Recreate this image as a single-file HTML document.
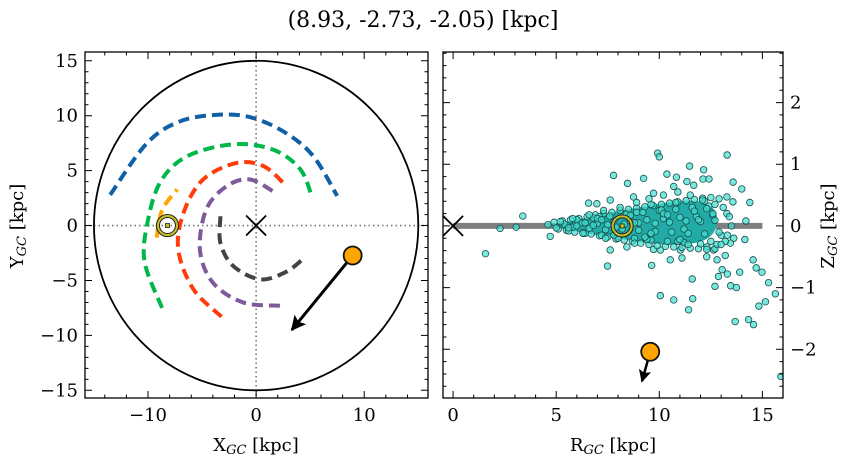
<!DOCTYPE html>
<html><head><meta charset="utf-8">
<style>
html,body{margin:0;padding:0;background:#fff;}
svg{display:block;font-family:"DejaVu Serif","Liberation Serif",serif;}
</style></head>
<body>
<svg id="fig" width="854" height="464" viewBox="0 0 854 464" xmlns="http://www.w3.org/2000/svg">
<text x="423" y="27" font-size="22" text-anchor="middle">(8.93, -2.73, -2.05) [kpc]</text>
<g id="left"></g>
<g id="right"></g>
<text x="256" y="451" font-size="18" text-anchor="middle">X<tspan font-size="13" font-style="italic" dy="3">GC</tspan><tspan dy="-3"> [kpc]</tspan></text>
<text transform="translate(23,226) rotate(-90)" font-size="18" text-anchor="middle">Y<tspan font-size="13" font-style="italic" dy="3">GC</tspan><tspan dy="-3"> [kpc]</tspan></text>
<text x="613" y="451" font-size="18" text-anchor="middle">R<tspan font-size="13" font-style="italic" dy="3">GC</tspan><tspan dy="-3"> [kpc]</tspan></text>
<text transform="translate(834,226) rotate(-90)" font-size="18" text-anchor="middle">Z<tspan font-size="13" font-style="italic" dy="3">GC</tspan><tspan dy="-3"> [kpc]</tspan></text>
</svg>
<script>
// ---- Left panel data (X, Y in kpc) ----
const orbitBlueX = [-13.5,-10.1,-7.0,-3.3,-0.3,2.8,5.3,7.5];
const orbitBlueY = [2.8,7.5,9.5,10.1,9.8,8.4,6.3,2.7];
const orbitGreenX = [-8.7,-10.3,-10.1,-8.9,-6.4,-2.1,1.6,4.1,5.2];
const orbitGreenY = [-7.5,-3.4,0,3.9,6.3,7.4,6.9,5.1,2.5];
const orbitOrangeX = [-9.2,-8.7,-7.3];
const orbitOrangeY = [-1.1,1.4,3.3];
const orbitRedX = [-3.2,-5.8,-7.2,-6.7,-4.9,-1.8,0.7,2.7];
const orbitRedY = [-8.3,-5.8,-2.2,1.2,4.2,5.7,5.4,3.7];
const orbitPurpleX = [2.2,-1.2,-4.0,-5.2,-4.6,-2.7,-0.6,1.6];
const orbitPurpleY = [-7.3,-7.0,-5.2,-2.2,1.5,3.6,4.2,3.1];
const orbitGreyX = [-3.3,-3.3,-2.1,0.4,2.8,4.5];
const orbitGreyY = [0.85,-1.6,-3.7,-4.9,-4.2,-2.9];
const objectXY = [8.93,-2.73];
const objectArrowXY = [3.3,-9.5];
const sunXY = [-8.2,0];
const diskRadius = [15];
const xTicksLeft = [-10,0,10];
const yTicksLeft = [-15,-10,-5,0,5,10,15];
// ---- Right panel data (R, Z in kpc) ----
const starR = [1.57,2.28,3.06,3.38,7.49,7.78,8.46,9.92,10.0,13.29,11.47,12.15,13.58,14.0,14.39,14.2,14.15,14.55,14.7,14.98,15.3,15.63,15.15,14.83,14.33,14.57,13.68,15.9,10.05,10.7,11.42,11.62,11.6,12.7,13.46,13.74,13.9,13.05,12.87,13.3,9.63,12.3,12.8,13.2,
9.24,10.37,10.83,11.34,12.12,12.41,10.7,11.67,13.57,13.28,13.28,13.61,13.45,12.31,12.64,11.02,10.53,11.1,10.05,9.72,6.57,6.97,7.62,8.75,9.72,4.71,7.62,8.43,
4.6,4.9,5.1,5.3,5.5,5.7,5.9,6.1,6.3,6.5,6.7,6.9,7.1,7.3,7.5,7.7,7.9,8.1,8.3,8.5,8.7,8.9,9.1,9.3,9.5,9.7,9.9,10.1,10.3,10.5,10.7,10.9,11.1,11.3,11.5,11.7,11.9,12.1,12.3,12.5,12.7,12.9,
5.0,5.4,5.8,6.2,6.6,7.0,7.4,7.8,8.2,8.6,9.0,9.4,9.8,10.2,10.6,11.0,11.4,11.8,12.2,12.6,13.0,
5.2,5.6,6.0,6.4,6.8,7.2,7.6,8.0,8.4,8.8,9.2,9.6,10.0,10.4,10.8,11.2,11.6,12.0,12.4,12.8,
6.0,6.8,7.5,8.3,9.0,9.8,10.5,11.3,12.0,12.7,8.0,9.4,10.9,12.3,11.6,10.1,8.9,7.1,
6.3,7.0,7.8,8.6,9.3,10.2,11.0,11.7,12.5,9.6,10.8,12.2,7.4,8.8,11.4,
13.1,13.4,12.9,13.2,13.5,12.6,11.9,11.2,10.4,9.6,8.8,7.9,7.2,6.4,5.6,
13.0,13.3,12.7,12.1,11.5,10.9,10.2,9.5,8.9,8.1,7.3,6.6,5.8];
const starZ = [-0.45,-0.04,-0.02,0.16,-0.65,0.82,0.69,1.18,1.12,1.15,0.97,0.91,0.71,0.6,0.38,0.08,-0.22,-0.55,-0.68,-0.75,-0.92,-1.1,-1.23,-1.3,-1.52,-1.6,-1.55,-2.44,-1.13,-1.2,-1.36,-1.18,-0.86,-0.98,-0.97,-1.0,-0.75,-0.71,-0.82,-0.78,-0.64,-0.5,-0.55,-0.48,
0.77,0.84,0.79,0.72,0.76,0.76,0.64,0.66,0.39,0.47,0.20,-0.20,-0.28,-0.34,-0.39,-0.39,-0.55,-0.52,-0.39,-0.38,0.37,0.36,0.42,0.47,0.53,-0.17,-0.39,-0.34,
0.02,0.06,-0.05,0.08,-0.07,0.1,-0.1,0.12,-0.11,0.15,-0.13,0.18,-0.16,0.2,-0.18,0.22,-0.21,0.25,-0.23,0.27,-0.25,0.29,-0.28,0.31,-0.3,0.33,-0.32,0.35,-0.33,0.37,-0.34,0.39,-0.35,0.41,-0.36,0.43,-0.37,0.45,-0.38,0.46,-0.37,0.44,
-0.03,0.03,-0.02,0.05,-0.04,0.04,-0.06,0.07,-0.05,0.08,-0.07,0.1,-0.09,0.12,-0.1,0.14,-0.12,0.15,-0.13,0.17,-0.15,
0.07,-0.08,0.1,-0.12,0.13,-0.15,0.16,-0.17,0.19,-0.2,0.22,-0.23,0.25,-0.25,0.27,-0.27,0.3,-0.29,0.32,-0.3,
0.0,0.01,0.02,0.03,0.05,0.04,0.06,0.08,0.07,0.09,-0.2,-0.22,-0.25,0.28,0.3,0.26,0.22,0.15,
-0.12,0.12,-0.15,0.17,-0.18,0.2,-0.22,0.24,-0.25,0.35,0.38,0.4,-0.2,-0.28,-0.3,
0.3,0.15,-0.1,-0.25,0.0,0.2,0.1,-0.05,0.18,-0.12,0.05,-0.02,0.1,0.05,-0.03,
-0.3,-0.15,0.35,0.42,0.5,0.55,0.5,0.44,0.38,0.3,0.25,0.18,0.12];
const planeR = [0,15];
const objectRZ = [9.56,-2.04];
const objectArrowRZ = [9.16,-2.52];
const sunRZ = [8.2,0];
const xTicksRight = [0,5,10,15];
const yTicksRight = [-2,-1,0,1,2];

const NS='http://www.w3.org/2000/svg';
function mk(parent,tag,attrs){const e=document.createElementNS(NS,tag);for(const k in attrs)e.setAttribute(k,attrs[k]);parent.appendChild(e);return e;}
function smoothPath(P){
  let d=`M${P[0][0]},${P[0][1]}`;
  for(let i=0;i<P.length-1;i++){
    const p0=P[Math.max(i-1,0)],p1=P[i],p2=P[i+1],p3=P[Math.min(i+2,P.length-1)];
    const c1=[p1[0]+(p2[0]-p0[0])/6,p1[1]+(p2[1]-p0[1])/6];
    const c2=[p2[0]-(p3[0]-p1[0])/6,p2[1]-(p3[1]-p1[1])/6];
    d+=`C${c1[0]},${c1[1]} ${c2[0]},${c2[1]} ${p2[0]},${p2[1]}`;
  }
  return d;
}

const L={x0:85,x1:428,y0:52,y1:398,xmin:-15.83,xmax:15.9,ymin:-15.7,ymax:15.8};
const lx=v=>L.x0+(v-L.xmin)/(L.xmax-L.xmin)*(L.x1-L.x0);
const ly=v=>L.y1-(v-L.ymin)/(L.ymax-L.ymin)*(L.y1-L.y0);
const R={x0:443,x1:783,y0:52,y1:398,xmin:-0.49,xmax:16.0,ymin:-2.79,ymax:2.82};
const rx=v=>R.x0+(v-R.xmin)/(R.xmax-R.xmin)*(R.x1-R.x0);
const ry=v=>R.y1-(v-R.ymin)/(R.ymax-R.ymin)*(R.y1-R.y0);

const gl=document.getElementById('left');
const gr=document.getElementById('right');

const defs=mk(document.getElementById('fig'),'defs',{});
const cl=mk(defs,'clipPath',{id:'clipL'});mk(cl,'rect',{x:L.x0,y:L.y0,width:L.x1-L.x0,height:L.y1-L.y0});
const cr=mk(defs,'clipPath',{id:'clipR'});mk(cr,'rect',{x:R.x0,y:R.y0,width:R.x1-R.x0,height:R.y1-R.y0});
const mkArrow=mk(defs,'marker',{id:'ah',markerWidth:'5',markerHeight:'5',refX:'4.5',refY:'2.5',orient:'auto',markerUnits:'strokeWidth'});
mk(mkArrow,'path',{d:'M0,0 L5,2.5 L0,5 L1,2.5 Z',fill:'#000'});

// ---- Left panel content ----
const lc=mk(gl,'g',{'clip-path':'url(#clipL)'});
const g1=mk(lc,'line',{x1:lx(0),y1:L.y0,x2:lx(0),y2:L.y1,stroke:'#777','stroke-width':1.6,'stroke-dasharray':'1.5 3'});


const g2=mk(lc,'line',{x1:L.x0,y1:ly(0),x2:L.x1,y2:ly(0),stroke:'#777','stroke-width':1.6,'stroke-dasharray':'1.5 3'});


const disk=mk(lc,'ellipse',{cx:lx(0),cy:ly(0),rx:lx(diskRadius[0])-lx(0),ry:ly(0)-ly(diskRadius[0]),fill:'none',stroke:'#000','stroke-width':1.8});



const orbits=[[orbitBlueX,orbitBlueY,'#1060a5','orbit-blue'],[orbitGreenX,orbitGreenY,'#00b84a','orbit-green'],[orbitRedX,orbitRedY,'#ff3c0a','orbit-red'],[orbitPurpleX,orbitPurpleY,'#7e5a9b','orbit-purple'],[orbitGreyX,orbitGreyY,'#444','orbit-grey'],[orbitOrangeX,orbitOrangeY,'#ffa500','orbit-orange']];
orbits.forEach(o=>{
  const P=o[0].map((x,i)=>[lx(x),ly(o[1][i])]);
  const p=mk(lc,'path',{d:smoothPath(P),fill:'none',stroke:o[2],'stroke-width':4,'stroke-dasharray':'11 6'});
  
  
});
function cross(g,cx,cy,s,name){
  const c=mk(g,'path',{d:`M${cx-s},${cy-s}L${cx+s},${cy+s}M${cx-s},${cy+s}L${cx+s},${cy-s}`,stroke:'#000','stroke-width':1.8});
  
  
}
cross(lc,lx(0),ly(0),10,'galactic-center-marker');
function sun(g,cx,cy,name){
  const s=mk(g,'g',{});
  
  
  mk(s,'circle',{cx:cx,cy:cy,r:11,fill:'none',stroke:'#222','stroke-width':1.2});
  mk(s,'circle',{cx:cx,cy:cy,r:9.5,fill:'none',stroke:'#c8c020','stroke-width':2});
  mk(s,'circle',{cx:cx,cy:cy,r:8,fill:'none',stroke:'#222','stroke-width':1});
  mk(s,'rect',{x:cx-2,y:cy-2,width:4,height:4,fill:'#c8c020',stroke:'#222','stroke-width':0.8});
}
sun(lc,lx(sunXY[0]),ly(sunXY[1]),'sun-marker-xy');
const a1=mk(lc,'line',{x1:lx(objectXY[0]),y1:ly(objectXY[1]),x2:lx(objectArrowXY[0]),y2:ly(objectArrowXY[1]),stroke:'#000','stroke-width':3,'marker-end':'url(#ah)'});


const o1=mk(lc,'circle',{cx:lx(objectXY[0]),cy:ly(objectXY[1]),r:9,fill:'#ffa500',stroke:'#111','stroke-width':1.8});



// ---- Right panel content ----
const rc=mk(gr,'g',{'clip-path':'url(#clipR)'});
const plane=mk(rc,'line',{x1:rx(planeR[0]),y1:ry(0),x2:rx(planeR[1]),y2:ry(0),stroke:'#808080','stroke-width':6});


const env=mk(rc,'path',{d:`M${rx(4.6)},${ry(0)} C${rx(6)},${ry(0.1)} ${rx(8)},${ry(0.25)} ${rx(10)},${ry(0.36)} C${rx(11.5)},${ry(0.45)} ${rx(12.8)},${ry(0.45)} ${rx(12.8)},${ry(0.1)} C${rx(12.8)},${ry(-0.3)} ${rx(11.5)},${ry(-0.32)} ${rx(10)},${ry(-0.3)} C${rx(8)},${ry(-0.22)} ${rx(6)},${ry(-0.1)} ${rx(4.6)},${ry(0)} Z`,fill:'#22aaa6',stroke:'none'});


starR.forEach((r,i)=>{
  const c=mk(rc,'circle',{cx:rx(r),cy:ry(starZ[i]),r:3.3,fill:'#40e0d0','fill-opacity':0.7,stroke:'#1c4f4f','stroke-width':0.8});
  
  
});
cross(rc,rx(0),ry(0),10,'galactic-center-marker-rz');
sun(rc,rx(sunRZ[0]),ry(sunRZ[1]),'sun-marker-rz');
const a2=mk(rc,'line',{x1:rx(objectRZ[0]),y1:ry(objectRZ[1]),x2:rx(objectArrowRZ[0]),y2:ry(objectArrowRZ[1]),stroke:'#000','stroke-width':2.5,'marker-end':'url(#ah)'});


const o2=mk(rc,'circle',{cx:rx(objectRZ[0]),cy:ry(objectRZ[1]),r:9,fill:'#ffa500',stroke:'#111','stroke-width':1.8});



// ---- Axes frames and ticks ----
function axes(g,A,fx,fy,xt,xminor,ymajor,yminor,nameP){
  const fr=mk(g,'rect',{x:A.x0,y:A.y0,width:A.x1-A.x0,height:A.y1-A.y0,fill:'none',stroke:'#000','stroke-width':1.3});
  
  
  let d='';
  for(let v=Math.ceil(A.xmin/xminor)*xminor;v<=A.xmax;v+=xminor){const X=fx(v);const maj=Math.abs(v/xt - Math.round(v/xt))<1e-6;const s=maj?7:3.5;d+=`M${X},${A.y1}v${-s}M${X},${A.y0}v${s}`;}
  for(let v=Math.ceil(A.ymin/yminor-1e-6)*yminor;v<=A.ymax;v+=yminor){const Y=fy(v);const maj=Math.abs(v/ymajor - Math.round(v/ymajor))<1e-6;const s=maj?7:3.5;d+=`M${A.x0},${Y}h${s}M${A.x1},${Y}h${-s}`;}
  const t=mk(g,'path',{d:d,stroke:'#000','stroke-width':1});
  
  
}
axes(gl,L,lx,ly,10,2,5,1,'xy');
axes(gr,R,rx,ry,5,1,1,0.2,'rz');
const fmt=v=>(v<0?'\u2212':'')+Math.abs(v);
xTicksLeft.forEach(v=>{const t=mk(gl,'text',{x:lx(v),y:421,'font-size':18,'text-anchor':'middle'});t.textContent=fmt(v);

});
yTicksLeft.forEach(v=>{const t=mk(gl,'text',{x:78,y:ly(v)+6,'font-size':18,'text-anchor':'end'});t.textContent=fmt(v);

});
xTicksRight.forEach(v=>{const t=mk(gr,'text',{x:rx(v),y:421,'font-size':18,'text-anchor':'middle'});t.textContent=fmt(v);

});
yTicksRight.forEach(v=>{const t=mk(gr,'text',{x:790,y:ry(v)+6,'font-size':18,'text-anchor':'start'});t.textContent=fmt(v);

});
</script>
</body></html>
